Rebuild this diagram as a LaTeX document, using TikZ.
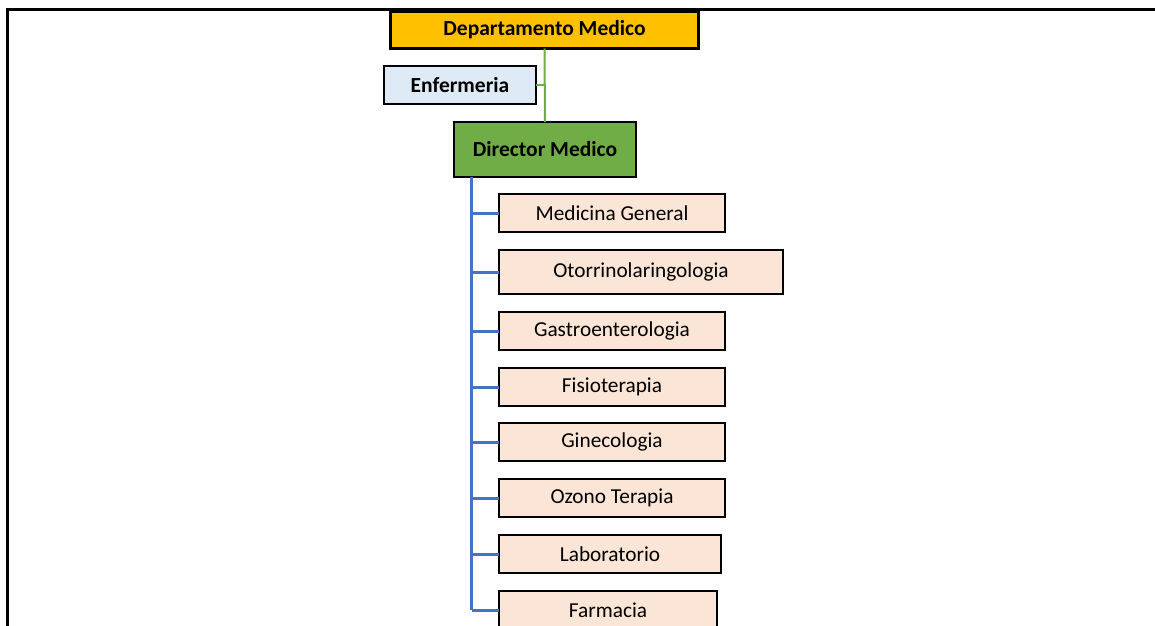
\documentclass[tikz,border=0pt]{standalone}
\usepackage{fontspec}
\setmainfont{Carlito}
\usetikzlibrary{calc}
\definecolor{gold}{HTML}{FFC000}
\definecolor{paleblue}{HTML}{DEEBF7}
\definecolor{leaf}{HTML}{70AD47}
\definecolor{peach}{HTML}{FBE5D6}
\definecolor{steel}{HTML}{4472C4}
\tikzset{
  box/.style={draw=black, line width=2.5pt, inner sep=0pt, outer sep=0pt, anchor=north west, font=\fontsize{21.3}{25}\selectfont},
  head/.style={box, font=\fontsize{21.5}{25}\selectfont\bfseries},
  unit/.style={box, fill=peach, minimum height=38pt},
  green link/.style={draw=leaf, line width=2pt},
  blue link/.style={draw=steel, line width=3pt},
}
\begin{document}
\begin{tikzpicture}[x=1pt,y=-1pt]
\useasboundingbox (0,0) rectangle (1155,625);
\clip (0,0) rectangle (1155,625);
% frame (open at right and bottom)
\draw[line width=2.5pt] (7.5,630) -- (7.5,9.5) -- (1160,9.5);
% heads
\node[head, fill=gold, line width=3.5pt, minimum width=308pt, minimum height=37pt] (dept) at (390.5,11.5) {Departamento Medico};
\node[head, fill=paleblue, minimum width=152pt, minimum height=38pt] (enf) at (384,66) {Enfermeria};
\node[head, fill=leaf, minimum width=182pt, minimum height=55pt] (dir) at (454,122) {Director Medico};
% green connectors
\draw[green link] (dept.south) -- (dir.north);
\draw[green link] (enf.east) -- (enf.east -| dept.south);
% units
\node[unit, minimum width=226pt] (u1) at (499,194) {Medicina General};
\node[unit, minimum width=284pt, minimum height=44pt] (u2) at (499,250) {Otorrinolaringologia};
\node[unit, minimum width=226pt] (u3) at (499,312) {Gastroenterologia};
\node[unit, minimum width=226pt] (u4) at (499,368) {Fisioterapia};
\node[unit, minimum width=226pt] (u5) at (499,423) {Ginecologia};
\node[unit, minimum width=226pt] (u6) at (499,479) {Ozono Terapia};
\node[unit, minimum width=222pt] (u7) at (499,535) {Laboratorio};
\node[unit, minimum width=218pt] (u8) at (499,591) {Farmacia};
% blue trunk
\coordinate (trunk) at ($(dir.south west)+(17.5,0)$);
\draw[blue link] (trunk) -- (trunk |- u8.west);
\foreach \u in {u1,u2,u3,u4,u5,u6,u7,u8}
  \draw[blue link] (trunk |- \u.west) -- (\u.west);
\end{tikzpicture}
\end{document}
